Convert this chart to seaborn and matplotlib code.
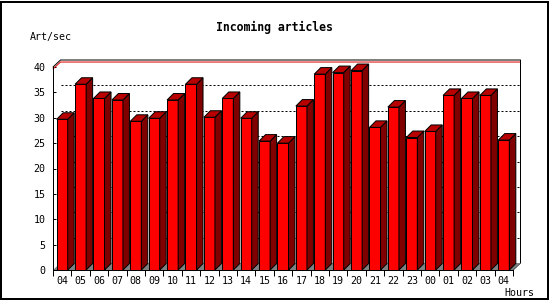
import numpy as np
import pandas as pd
import matplotlib
matplotlib.use("Agg")
import matplotlib.pyplot as plt
import seaborn as sns
from matplotlib.patches import Polygon, Rectangle

# ---- data ----
hours = ["04", "05", "06", "07", "08", "09", "10", "11", "12", "13", "14", "15", "16",
         "17", "18", "19", "20", "21", "22", "23", "00", "01", "02", "03", "04"]
rates = [29.7, 36.6, 33.8, 33.5, 29.3, 29.9, 33.5, 36.6, 30.1, 33.8, 29.9, 25.4, 25.0,
         32.3, 38.6, 38.9, 39.3, 28.1, 32.1, 26.1, 27.3, 34.4, 33.8, 34.4, 25.6]
y_ticks = [0, 5, 10, 15, 20, 25, 30, 35, 40]
title = "Incoming articles"
y_label = "Art/sec"
x_label = "Hours"

sns.set_theme(style="white")
plt.rcParams['font.family'] = ['DejaVu Sans Mono']
plt.rcParams['lines.scale_dashes'] = False

W, H = 550, 300
fig = plt.figure(figsize=(W / 100, H / 100), dpi=100)
fig.patch.set_facecolor("white")

ax_left, ax_bottom, ax_w, ax_h = 53, 30, 460, 203
ax = fig.add_axes([ax_left / W, ax_bottom / H, ax_w / W, ax_h / H])
ax.set_facecolor("none")

df = pd.DataFrame({"slot": list(range(len(rates))), "rate": rates})
sns.barplot(data=df, x="slot", y="rate", color="#ff0000", saturation=1, width=0.6,
            edgecolor="black", linewidth=0.72, ax=ax, zorder=3)

n = len(rates)
ymax = y_ticks[-1]
ax.set_xlim(-0.5, n - 0.5)
ax.set_ylim(0, ymax)

px_x = ax_w / n
px_y = ax_h / ymax
# bar depth (pixels -> data)
ddx, ddy = 6.5 / px_x, 6.5 / px_y
# back plane offset
bdx, bdy = 7.5 / px_x, 7.0 / px_y

# side and top faces for each bar
for p in list(ax.patches):
    x0 = p.get_x()
    x1 = x0 + p.get_width()
    h = p.get_height()
    top = Polygon([(x0, h), (x1, h), (x1 + ddx, h + ddy), (x0 + ddx, h + ddy)],
                  closed=True, facecolor="#b80000", edgecolor="black", linewidth=0.72,
                  zorder=3.1, clip_on=False)
    side = Polygon([(x1, 0), (x1 + ddx, ddy), (x1 + ddx, h + ddy), (x1, h)],
                   closed=True, facecolor="#800000", edgecolor="black", linewidth=0.72,
                   zorder=3.1, clip_on=False)
    ax.add_patch(side)
    ax.add_patch(top)

xl, xr = -0.5, n - 0.5
# floor
ax.add_patch(Polygon([(xl, 0), (xr, 0), (xr + bdx, bdy), (xl + bdx, bdy)], closed=True,
                     facecolor="#808080", edgecolor="none", zorder=1.5, clip_on=False))
# back grid lines (dotted)
for v in y_ticks[1:-1]:
    ax.plot([xl + bdx, xr + bdx], [v + bdy, v + bdy], color="black", lw=0.72,
            linestyle=(0, (1.44, 1.44)), zorder=1, clip_on=False)
# red top line
rv = ymax - 0.4
ax.plot([xl, xl + bdx, xr + bdx], [rv, rv + bdy, rv + bdy], color="#e00000", lw=0.72,
        zorder=1.2, clip_on=False)
# back frame
ax.plot([xl, xl + bdx, xr + bdx, xr + bdx, xr], [ymax, ymax + bdy, ymax + bdy, bdy, 0],
        color="black", lw=0.72, zorder=1.3, clip_on=False)

# spines
for s in ["top", "right"]:
    ax.spines[s].set_visible(False)
for s in ["left", "bottom"]:
    ax.spines[s].set_visible(True)
    ax.spines[s].set_color("black")
    ax.spines[s].set_linewidth(0.72)
    ax.spines[s].set_zorder(4)

ax.set_xlabel("")
ax.set_ylabel("")
ax.set_xticks(np.arange(-0.5, n, 1.0))
ax.set_xticklabels([])
ax.set_xticks(np.arange(n), minor=True)
ax.set_xticklabels(hours, minor=True)
ax.tick_params(axis="x", which="major", bottom=True, length=4, width=0.72, color="black",
               direction="out")
ax.tick_params(axis="x", which="minor", bottom=True, length=0, pad=4.5, labelsize=7.2,
               labelcolor="black")
ax.set_yticks(y_ticks)
ax.set_yticklabels([str(v) for v in y_ticks])
ax.tick_params(axis="y", left=True, length=2, width=0.72, color="black", direction="in",
               pad=5.5, labelsize=7.2, labelcolor="black")
ax.grid(False)

fig.text(274 / W, 1 - 27 / H, title, ha="center", va="center", fontsize=8.3,
         fontweight="bold", color="black")
fig.text(30 / W, 1 - 37 / H, y_label, ha="left", va="center", fontsize=7.2, color="black")
fig.text(504 / W, 1 - 293 / H, x_label, ha="left", va="center", fontsize=7.2, color="black")

fig.add_artist(Rectangle((1 / W, 1.5 / H), 547 / W, 297 / H, transform=fig.transFigure,
                         fill=False, edgecolor="black", linewidth=1.44))

fig.savefig("out.png", dpi=100)
